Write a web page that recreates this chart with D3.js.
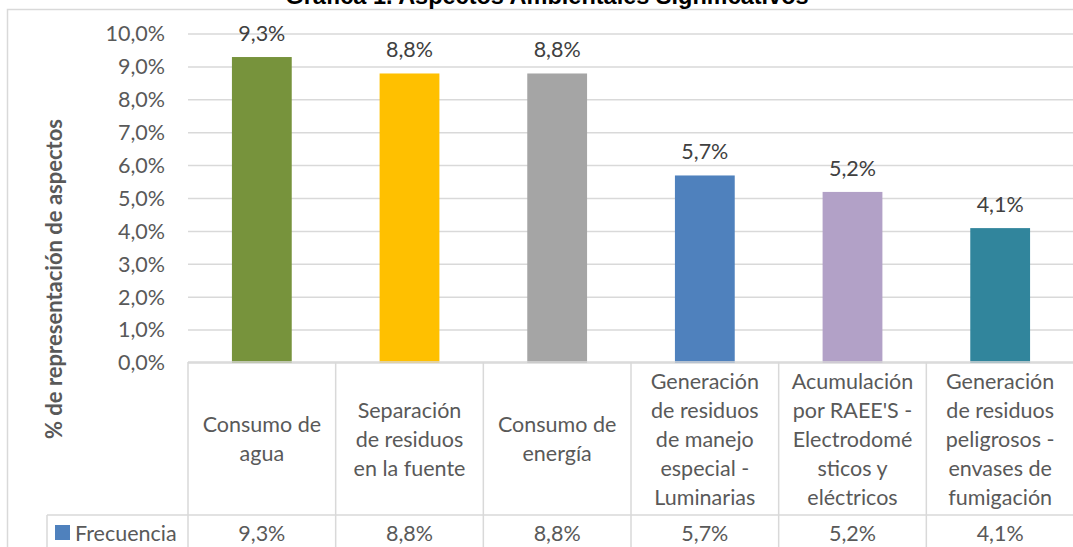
<!DOCTYPE html>
<html>
<head>
<meta charset="utf-8">
<script src="https://cdn.jsdelivr.net/npm/d3@7"></script>
<style>
  html, body { margin: 0; padding: 0; background: #fff; overflow: hidden; }
  #canvas { width: 1073px; height: 547px; }
  text { font-family: Lato, "Open Sans", sans-serif; }
</style>
</head>
<body>
<div id="canvas"></div>
<script>
let categories = [
  ["Consumo de", "agua"],
  ["Separación", "de residuos", "en la fuente"],
  ["Consumo de", "energía"],
  ["Generación", "de residuos", "de manejo", "especial -", "Luminarias"],
  ["Acumulación", "por RAEE'S -", "Electrodomé", "sticos y", "eléctricos"],
  ["Generación", "de residuos", "peligrosos -", "envases de", "fumigación"],
];
let values = [9.3, 8.8, 8.8, 5.7, 5.2, 4.1];
let barColors = ["#77933c", "#ffc000", "#a5a5a5", "#4f81bd", "#b2a1c7", "#31859c"];
let yTicks = [0, 1, 2, 3, 4, 5, 6, 7, 8, 9, 10];
let seriesName = "Frecuencia";
let title = "Grafica 1. Aspectos Ambientales Significativos";
let yTitle = "% de representación de aspectos";

let fmt = (v) => v.toFixed(1).replace(".", ",") + "%";

let width = 1073, height = 547;
let gridColor = "#d9d9d9";
let textColor = "#595959";
let fs = "21.5px";

let svg = d3
  .select("#canvas")
  .append("svg")
  .attr("width", width)
  .attr("height", height);

// outer chart frame (runs off the right and bottom edge)
svg.append("rect")
  .attr("x", 7.5).attr("y", 9.5)
  .attr("width", 1200).attr("height", 700)
  .attr("fill", "none")
  .attr("stroke", gridColor)
  .attr("stroke-width", 1.5);

// title sits mostly above the visible area, like the reference crop
svg.append("text")
  .attr("x", 547).attr("y", 4)
  .attr("text-anchor", "middle")
  .style("font-family", "'Liberation Sans', Arial, sans-serif")
  .style("font-weight", "bold")
  .style("font-size", "23.5px")
  .attr("fill", "#000")
  .text(title);

let x = d3.scaleBand()
  .domain(d3.range(values.length))
  .range([188, 1074]);

let y = d3.scaleLinear()
  .domain([0, 10])
  .range([363, 34]);

// gridlines
svg.append("g")
  .selectAll("line")
  .data(yTicks)
  .join("line")
  .attr("x1", 188)
  .attr("x2", width)
  .attr("y1", (d) => y(d))
  .attr("y2", (d) => y(d))
  .attr("stroke", gridColor)
  .attr("stroke-width", 1.5);

// y axis labels
let yAxis = svg.append("g")
  .attr("transform", "translate(165,0)")
  .call(d3.axisLeft(y).tickValues(yTicks).tickFormat(fmt).tickSize(0).tickPadding(0));
yAxis.select(".domain").remove();
yAxis.selectAll("text")
  .style("font-family", "Lato, sans-serif")
  .style("font-size", fs)
  .attr("fill", textColor);

svg.append("text")
  .attr("transform", "translate(62,279) rotate(-90)")
  .attr("text-anchor", "middle")
  .style("font-weight", "bold")
  .style("font-size", "22px")
  .attr("fill", textColor)
  .text(yTitle);

let barW = x.bandwidth() * 0.405;

svg.append("g")
  .selectAll("rect")
  .data(values)
  .join("rect")
  .attr("x", (d, i) => x(i) + (x.bandwidth() - barW) / 2)
  .attr("y", (d) => y(d))
  .attr("width", barW)
  .attr("height", (d) => y(0) - y(d))
  .attr("fill", (d, i) => barColors[i]);

// data labels
svg.append("g")
  .selectAll("text")
  .data(values)
  .join("text")
  .attr("x", (d, i) => x(i) + x.bandwidth() / 2)
  .attr("y", (d) => y(d) - 16)
  .attr("text-anchor", "middle")
  .style("font-size", fs)
  .attr("fill", "#404040")
  .text(fmt);

// data table
let tableTop = 362, rowTop = 515;
let table = svg.append("g")
  .attr("stroke", gridColor)
  .attr("stroke-width", 1.5);
table.append("line").attr("x1", 188).attr("x2", width).attr("y1", tableTop).attr("y2", tableTop);
table.append("line").attr("x1", 47).attr("x2", width).attr("y1", rowTop).attr("y2", rowTop);
table.append("line").attr("x1", 47).attr("x2", 47).attr("y1", rowTop).attr("y2", height);
table.selectAll(".v")
  .data(d3.range(values.length + 1))
  .join("line")
  .attr("x1", (i) => x.range()[0] + i * x.bandwidth())
  .attr("x2", (i) => x.range()[0] + i * x.bandwidth())
  .attr("y1", tableTop)
  .attr("y2", height);

let lineH = 29;
svg.append("g")
  .selectAll("text")
  .data(categories)
  .join("text")
  .attr("text-anchor", "middle")
  .style("font-size", fs)
  .attr("fill", textColor)
  .each(function (lines, i) {
    let cx = x(i) + x.bandwidth() / 2;
    let cy = (tableTop + rowTop) / 2;
    let y0 = cy - ((lines.length - 1) * lineH) / 2 + 8;
    d3.select(this)
      .selectAll("tspan")
      .data(lines)
      .join("tspan")
      .attr("x", cx)
      .attr("y", (d, j) => y0 + j * lineH)
      .text((d) => d);
  });

svg.append("g")
  .selectAll("text")
  .data(values)
  .join("text")
  .attr("x", (d, i) => x(i) + x.bandwidth() / 2)
  .attr("y", 541)
  .attr("text-anchor", "middle")
  .style("font-size", fs)
  .attr("fill", textColor)
  .text(fmt);

svg.append("rect")
  .attr("x", 55).attr("y", 525)
  .attr("width", 15).attr("height", 15)
  .attr("fill", barColors[3]);
svg.append("text")
  .attr("x", 75).attr("y", 541)
  .style("font-size", fs)
  .attr("fill", textColor)
  .text(seriesName);
</script>
</body>
</html>
